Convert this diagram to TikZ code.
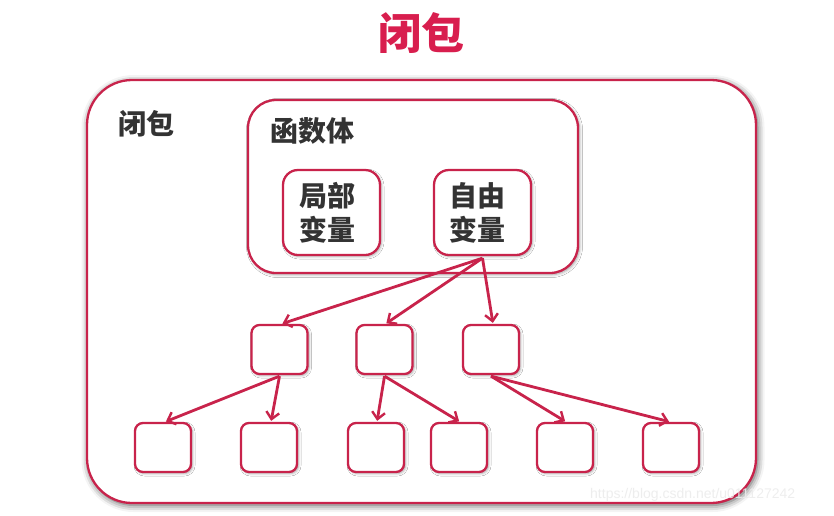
\documentclass[tikz,border=0pt]{standalone}
\usepackage{fontspec}
\newfontfamily\cjk{Noto Sans CJK SC}
\setsansfont{Liberation Sans}
\usetikzlibrary{arrows.meta,shadows.blur}
\definecolor{crim}{HTML}{C8234B}
\definecolor{titlered}{HTML}{D81E4E}
\definecolor{txt}{HTML}{333333}
\begin{document}
\begin{tikzpicture}[x=1pt,y=-1pt,
  box/.style={draw=crim, line width=2.3pt, fill=white, rounded corners=#1, inner sep=0pt},
  smallbox/.style={box=8pt, minimum width=56pt, minimum height=49pt,
    blur shadow={shadow xshift=1.5pt, shadow yshift=-1.5pt, shadow blur radius=2.5pt, shadow opacity=35}},
  varbox/.style={box=15pt, minimum width=97pt, minimum height=85pt,
    blur shadow={shadow xshift=1.5pt, shadow yshift=-1.5pt, shadow blur radius=2.5pt, shadow opacity=35}},
  cjklabel/.style={text=txt, font=\cjk\bfseries\fontsize{28}{34}\selectfont, align=center, inner sep=0pt},
  arr/.style={draw=crim, line width=2.8pt, -{Straight Barb[length=7pt,width=13pt,line width=2.4pt]}, shorten >=1pt}
]
\useasboundingbox (0,0) rectangle (834,515);

\node[text=titlered, font=\cjk\bfseries\fontsize{43}{43}\selectfont, inner sep=0pt] (title) at (421,33) {闭包};

\node[box=45pt, minimum width=669pt, minimum height=423pt,
  blur shadow={shadow xshift=1.5pt, shadow yshift=-2pt, shadow blur radius=7pt, shadow opacity=70}] (outer) at (421.5,291.5) {};
\node[cjklabel] (outerlbl) at (146,124) {闭包};

\node[box=28pt, minimum width=330pt, minimum height=173pt,
  blur shadow={shadow xshift=1.5pt, shadow yshift=-1.5pt, shadow blur radius=3pt, shadow opacity=40}] (body) at (413,186.5) {};
\node[cjklabel] (bodylbl) at (312,131) {函数体};

\node[varbox] (local) at (331.5,212.5) {};
\node[cjklabel] (locallbl) at (327,213) {局部\\变量};
\node[varbox] (free) at (482.5,212.5) {};
\node[cjklabel] (freelbl) at (477,213) {自由\\变量};

\node[smallbox] (m1) at (279.5,349.5) {};
\node[smallbox] (m2) at (384.5,349.5) {};
\node[smallbox] (m3) at (491,349.5) {};

\node[smallbox] (b1) at (163,447.5) {};
\node[smallbox] (b2) at (269,447.5) {};
\node[smallbox] (b3) at (376,447.5) {};
\node[smallbox] (b4) at (459,447.5) {};
\node[smallbox] (b5) at (565,447.5) {};
\node[smallbox] (b6) at (671,447.5) {};

\coordinate (src) at ([yshift=-2pt]free.south);
\draw[arr] (src) -- ([xshift=2pt]m1.north);
\draw[arr] (src) -- ([xshift=1pt]m2.north);
\draw[arr] (src) -- ([xshift=2pt]m3.north);

\draw[arr] ([yshift=-1pt]m1.south) -- ([xshift=2pt]b1.north);
\draw[arr] ([yshift=-1pt]m1.south) -- ([xshift=2pt]b2.north);
\draw[arr] ([yshift=-1pt]m2.south) -- ([xshift=1pt]b3.north);
\draw[arr] ([yshift=-1pt]m2.south) -- ([xshift=1pt]b4.north);
\draw[arr] ([yshift=-1pt]m3.south) -- ([xshift=1pt]b5.north);
\draw[arr] ([yshift=-1pt]m3.south) -- ([xshift=-1pt]b6.north);

\node[font=\sffamily\fontsize{14}{14}\selectfont, text=gray!15, opacity=0.9, anchor=west, inner sep=0pt] (wm) at (590,495) {https://blog.csdn.net/u011127242};
\end{tikzpicture}
\end{document}
